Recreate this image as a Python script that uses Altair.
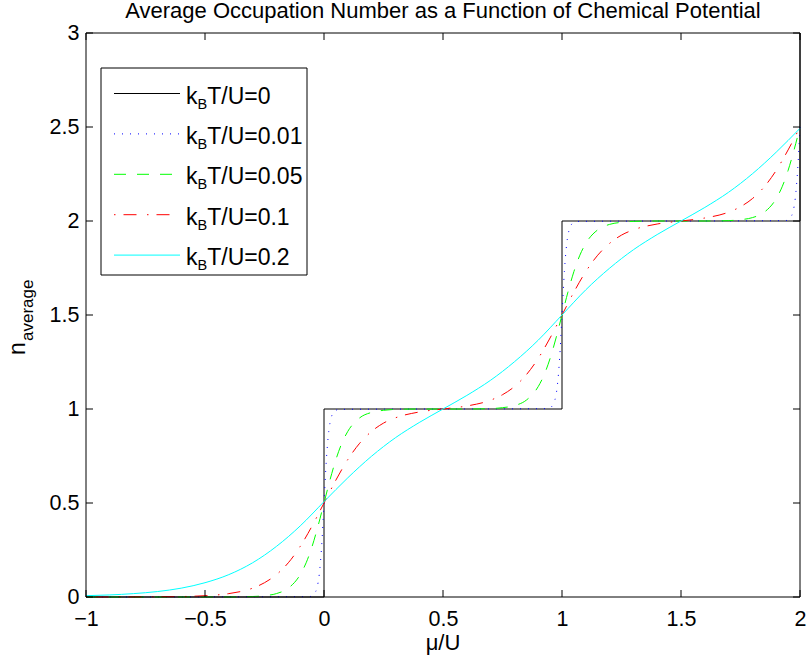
import altair as alt
import pandas as pd

# ---------------- data ----------------
temps = ["0", "0.01", "0.05", "0.1", "0.2"]

mu_t0 = [-1, 0, 0, 1, 1, 2, 2]
n_t0 = [0, 0, 1, 1, 2, 2, 3]

mu_t001 = [-1, -0.06, -0.05, -0.04, -0.03, -0.02, -0.01, 0, 0.01, 0.02, 0.03, 0.04, 0.05, 0.06,
           0.94, 0.95, 0.96, 0.97, 0.98, 0.99, 1.0, 1.01, 1.02, 1.03, 1.04, 1.05, 1.06,
           1.94, 1.95, 1.96, 1.97, 1.98, 1.99, 2.0]
n_t001 = [0, 0.002, 0.007, 0.018, 0.047, 0.119, 0.269, 0.5, 0.731, 0.881, 0.953, 0.982, 0.993, 0.998,
          1.002, 1.007, 1.018, 1.047, 1.119, 1.269, 1.5, 1.731, 1.881, 1.953, 1.982, 1.993, 1.998,
          2.002, 2.007, 2.018, 2.047, 2.119, 2.269, 2.5]

mu_t005 = [-1, -0.4, -0.3, -0.25, -0.2, -0.15, -0.1, -0.075, -0.05, -0.025, 0, 0.025, 0.05, 0.075,
           0.1, 0.15, 0.2, 0.25, 0.3, 0.4, 0.5, 0.6, 0.7, 0.75, 0.8, 0.85, 0.9, 0.925, 0.95, 0.975,
           1.0, 1.025, 1.05, 1.075, 1.1, 1.15, 1.2, 1.25, 1.3, 1.4, 1.5, 1.6, 1.7, 1.75, 1.8, 1.85,
           1.9, 1.925, 1.95, 1.975, 2.0]
n_t005 = [0, 0.0003, 0.0025, 0.007, 0.018, 0.047, 0.119, 0.182, 0.269, 0.378, 0.5, 0.622, 0.731, 0.818,
          0.881, 0.953, 0.982, 0.993, 0.998, 1.0, 1.0, 1.0, 1.002, 1.007, 1.018, 1.047, 1.119, 1.182, 1.269, 1.378,
          1.5, 1.622, 1.731, 1.818, 1.881, 1.953, 1.982, 1.993, 1.998, 2.0, 2.0, 2.0, 2.002, 2.007, 2.018, 2.047,
          2.119, 2.182, 2.269, 2.378, 2.5]

mu_t01 = [-1, -0.6, -0.5, -0.4, -0.3, -0.25, -0.2, -0.15, -0.1, -0.05, 0, 0.05, 0.1, 0.15, 0.2, 0.25,
          0.3, 0.4, 0.5, 0.6, 0.7, 0.75, 0.8, 0.85, 0.9, 0.95, 1.0, 1.05, 1.1, 1.15, 1.2, 1.25, 1.3,
          1.4, 1.5, 1.6, 1.7, 1.75, 1.8, 1.85, 1.9, 1.95, 2.0]
n_t01 = [0, 0.0025, 0.007, 0.018, 0.047, 0.076, 0.119, 0.182, 0.269, 0.378, 0.5, 0.622, 0.731, 0.818, 0.881, 0.925,
         0.953, 0.984, 1.0, 1.016, 1.047, 1.076, 1.119, 1.182, 1.269, 1.378, 1.5, 1.622, 1.731, 1.818, 1.881, 1.925, 1.953,
         1.984, 2.0, 2.016, 2.047, 2.076, 2.119, 2.182, 2.269, 2.378, 2.5]

mu_t02 = [-1, -0.9, -0.8, -0.7, -0.6, -0.5, -0.4, -0.3, -0.2, -0.1, 0, 0.1, 0.2, 0.3, 0.4, 0.5,
          0.6, 0.7, 0.8, 0.9, 1.0, 1.1, 1.2, 1.3, 1.4, 1.5, 1.6, 1.7, 1.8, 1.9, 2.0]
n_t02 = [0.007, 0.011, 0.018, 0.029, 0.047, 0.076, 0.119, 0.182, 0.269, 0.378, 0.507, 0.634, 0.749, 0.847, 0.928, 1.0,
         1.072, 1.153, 1.251, 1.366, 1.5, 1.634, 1.749, 1.847, 1.928, 2.0, 2.072, 2.153, 2.251, 2.366, 2.493]

x_ticks = [-1, -0.5, 0, 0.5, 1, 1.5, 2]
y_ticks = [0, 0.5, 1, 1.5, 2, 2.5, 3]

# ---------------- styling ----------------
FONT = "Liberation Sans"
W, H = 714, 564
series = [
    (mu_t0, n_t0, "#000000", None, "linear"),
    (mu_t001, n_t001, "#0000ff", [1, 7], "monotone"),
    (mu_t005, n_t005, "#00ff00", [12, 11], "monotone"),
    (mu_t01, n_t01, "#ff0000", [1.5, 8, 13, 10.5], "monotone"),
    (mu_t02, n_t02, "#00ffff", None, "monotone"),
]

xs = alt.Scale(domain=[-1, 2], nice=False, zero=False)
ys = alt.Scale(domain=[0, 3], nice=False, zero=False)

x_axis = alt.Axis(values=x_ticks, format="~g", domain=False, ticks=False, grid=False,
                  labelFont=FONT, labelFontSize=21.5, labelColor="black", labelPadding=11,
                  labelFlush=False, labelOverlap=False, labelBound=False, title=None)
y_axis = alt.Axis(values=y_ticks, format="~g", domain=False, ticks=False, grid=False,
                  labelFont=FONT, labelFontSize=21.5, labelColor="black", labelPadding=7,
                  labelFlush=False, labelOverlap=False, labelBound=False, title=None)

one = alt.Data(values=[{}])
layers = []

for k, (mu, n, color, dash, interp) in enumerate(series):
    df = pd.DataFrame({"mu": mu, "n": n, "i": list(range(len(mu)))})
    mk = dict(color=color, strokeWidth=1, interpolate=interp, clip=False)
    if dash is not None:
        mk["strokeDash"] = dash
    layers.append(
        alt.Chart(df).mark_line(**mk).encode(
            x=alt.X("mu:Q", scale=xs, axis=x_axis),
            y=alt.Y("n:Q", scale=ys, axis=y_axis),
            order=alt.Order("i:Q"),
        )
    )

# legend box
LX0, LY0, LX1, LY1 = 15, 35, 221, 242
layers.append(
    alt.Chart(one).mark_rect(fill="white", stroke="black", strokeWidth=1).encode(
        x=alt.value(LX0), x2=alt.value(LX1), y=alt.value(LY0), y2=alt.value(LY1))
)
for i, (t, s) in enumerate(zip(temps, series)):
    ly = 60.5 + 40.4 * i
    color, dash = s[2], s[3]
    rk = dict(color=color, strokeWidth=1)
    if dash is not None:
        rk["strokeDash"] = dash
    layers.append(alt.Chart(one).mark_rule(**rk).encode(
        x=alt.value(28), x2=alt.value(94), y=alt.value(ly)))
    layers.append(alt.Chart(one).mark_text(text="k", font=FONT, fontSize=23, align="left",
                                           baseline="alphabetic", color="black").encode(
        x=alt.value(100), y=alt.value(ly + 10)))
    layers.append(alt.Chart(one).mark_text(text="B", font=FONT, fontSize=14.5, align="left",
                                           baseline="alphabetic", color="black").encode(
        x=alt.value(111.5), y=alt.value(ly + 15)))
    layers.append(alt.Chart(one).mark_text(text="T/U=" + t, font=FONT, fontSize=23, align="left",
                                           baseline="alphabetic", color="black").encode(
        x=alt.value(121.2), y=alt.value(ly + 10)))

# frame
layers.append(
    alt.Chart(one).mark_rect(filled=False, color="black", strokeWidth=1).encode(
        x=alt.value(0), x2=alt.value(W), y=alt.value(0), y2=alt.value(H))
)

# inward ticks on all four sides
xt = pd.DataFrame({"v": x_ticks})
yt = pd.DataFrame({"v": y_ticks})
layers.append(alt.Chart(xt).mark_rule(color="black", strokeWidth=1).encode(
    x=alt.X("v:Q", scale=xs, axis=x_axis), y=alt.value(H), y2=alt.value(H - 7)))
layers.append(alt.Chart(xt).mark_rule(color="black", strokeWidth=1).encode(
    x=alt.X("v:Q", scale=xs, axis=x_axis), y=alt.value(0), y2=alt.value(7)))
layers.append(alt.Chart(yt).mark_rule(color="black", strokeWidth=1).encode(
    y=alt.Y("v:Q", scale=ys, axis=y_axis), x=alt.value(0), x2=alt.value(7)))
layers.append(alt.Chart(yt).mark_rule(color="black", strokeWidth=1).encode(
    y=alt.Y("v:Q", scale=ys, axis=y_axis), x=alt.value(W), x2=alt.value(W - 7)))

# title and axis titles
layers.append(alt.Chart(one).mark_text(
    text="Average Occupation Number as a Function of Chemical Potential",
    font=FONT, fontSize=22, align="center", baseline="alphabetic", color="black").encode(
    x=alt.value(W / 2), y=alt.value(-15)))
layers.append(alt.Chart(one).mark_text(
    text="\u03bc/U", font=FONT, fontSize=22, align="center", baseline="alphabetic", color="black").encode(
    x=alt.value(W / 2), y=alt.value(617)))
layers.append(alt.Chart(one).mark_text(
    text="n", font=FONT, fontSize=23, angle=270, align="left", baseline="alphabetic", color="black").encode(
    x=alt.value(-61), y=alt.value(322)))
layers.append(alt.Chart(one).mark_text(
    text="average", font=FONT, fontSize=17, angle=270, align="left", baseline="alphabetic", color="black").encode(
    x=alt.value(-53), y=alt.value(308)))

chart = alt.layer(*layers).properties(
    width=W, height=H,
    autosize=alt.AutoSizeParams(type="none"),
    padding={"left": 86, "top": 33, "right": 8, "bottom": 62},
    background="white",
).configure_view(stroke="transparent")

chart.save("out.html", embed_options={"renderer": "svg", "actions": False})
